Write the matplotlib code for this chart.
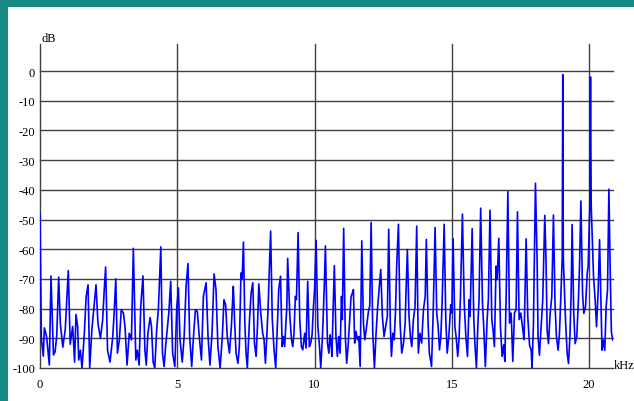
import matplotlib
matplotlib.use("Agg")
import matplotlib.pyplot as plt
from matplotlib.patches import Rectangle

plt.rcParams.update({
    "font.family": ["Liberation Serif", "DejaVu Serif"],
    "font.size": 9,
    "axes.unicode_minus": False,
})

# Spectrum trace, split into bands so the lists stay readable
band_a_khz = [0.00, 0.05, 0.12, 0.16, 0.24, 0.34, 0.40, 0.49, 0.55, 0.61,
              0.68, 0.74, 0.83, 0.92, 1.03, 1.10, 1.19, 1.26, 1.31, 1.37,
              1.41, 1.47, 1.53, 1.61, 1.68, 1.75, 1.81, 1.89, 1.97, 2.04,
              2.11, 2.20, 2.28, 2.34, 2.39, 2.46, 2.55, 2.65, 2.70, 2.76,
              2.82, 2.89, 2.96, 3.04, 3.10, 3.17, 3.25, 3.33, 3.40]
band_a_db = [-48, -90, -96, -86.5, -89.4, -99, -69, -95.6, -94.5, -89,
             -69.4, -85, -93, -87, -67.2, -92, -86, -98, -82, -86,
             -97.3, -94, -100, -89, -76, -72, -100, -87, -79, -72,
             -85, -90, -84, -73.6, -66, -94, -98, -89.4, -81.5, -70,
             -95, -90.5, -80.4, -81.5, -86.6, -99, -88.3, -90.5, -59.7]

band_b_khz = [3.49, 3.545, 3.61, 3.67, 3.75, 3.82, 3.87, 3.93, 4.01, 4.06,
              4.12, 4.18, 4.25, 4.31, 4.40, 4.46, 4.52, 4.57, 4.61, 4.69,
              4.76, 4.83, 4.91, 4.98, 5.04, 5.10, 5.18, 5.25, 5.32, 5.39,
              5.45, 5.525, 5.59, 5.66, 5.73, 5.80, 5.88, 5.95, 6.05, 6.12,
              6.19, 6.265, 6.34, 6.41, 6.48, 6.56, 6.64, 6.70, 6.76, 6.82,
              6.90, 6.97, 7.04]
band_b_db = [-97.3, -94, -99, -79, -69, -94, -99, -88.3, -83, -86,
             -98, -100, -87, -80.4, -59.2, -95, -99.5, -93.3, -89.4, -81.5,
             -70.8, -95, -99.5, -79.8, -73, -90.5, -98, -89.4, -72.5, -64.8,
             -89.4, -99.5, -89.4, -80.4, -81, -89.4, -97.3, -75.9, -71.3, -89.4,
             -99, -88.3, -68.3, -73.6, -92.8, -100, -89.4, -77, -78.7, -89.4,
             -95, -86, -72.5]

band_c_khz = [7.06, 7.09, 7.14, 7.21, 7.26, 7.32, 7.36, 7.41, 7.46, 7.505,
              7.55, 7.63, 7.69, 7.75, 7.81, 7.87, 7.92, 7.97, 8.04, 8.11,
              8.16, 8.21, 8.26, 8.31, 8.34, 8.40, 8.46, 8.525, 8.585, 8.65,
              8.695, 8.76, 8.82, 8.865, 8.91, 8.99, 9.02, 9.10, 9.16, 9.205,
              9.25, 9.30, 9.34, 9.40, 9.46, 9.52, 9.57, 9.64, 9.69, 9.75,
              9.81, 9.86, 9.91, 9.96, 10.00, 10.055, 10.12, 10.18, 10.225, 10.29,
              10.35, 10.395, 10.47, 10.52, 10.565, 10.61]
band_c_db = [-77, -84.9, -95, -98.4, -92.8, -68, -70.2, -57.6, -84.9, -95,
             -100, -83.7, -74.7, -71.3, -91.6, -96.1, -86, -71.7, -81.5, -88.3,
             -90.5, -98.4, -89.4, -79.2, -70.2, -53.9, -83.7, -93.9, -100, -84.9,
             -73.6, -69.1, -92.8, -89.4, -92.8, -79.2, -63.1, -82.6, -90.5, -92.8,
             -88.3, -75.9, -77, -54.4, -83.7, -92.8, -93.9, -88.3, -93.3, -70.8,
             -92.8, -91.6, -88.8, -79.2, -73.6, -57, -86, -92.8, -100, -88.8,
             -73.6, -58.9, -91.6, -95, -88.8, -92.8]

band_d_khz = [10.63, 10.69, 10.72, 10.78, 10.83, 10.88, 10.93, 10.98, 11.01, 11.06,
              11.12, 11.17, 11.22, 11.27, 11.33, 11.38, 11.415, 11.46, 11.51, 11.56,
              11.61, 11.66, 11.72, 11.78, 11.83, 11.88, 11.925, 11.97, 12.01, 12.06,
              12.12, 12.18, 12.24, 12.30, 12.35, 12.41, 12.47, 12.53, 12.59, 12.65,
              12.70, 12.76, 12.80, 12.85, 12.90, 12.945, 12.99, 13.055, 13.115, 13.175,
              13.24, 13.30, 13.33, 13.38, 13.44, 13.49, 13.54, 13.60, 13.66, 13.72,
              13.78, 13.84, 13.90, 13.965, 14.03, 14.07, 14.135, 14.18]
band_d_db = [-96.1, -75.9, -65.5, -89.4, -96.1, -89.4, -95, -75.9, -83.7, -53,
             -89.4, -98.4, -92.8, -84.9, -75.9, -74.7, -73.6, -91.6, -87.7, -90.5,
             -89.4, -99.5, -57.2, -84.9, -90.5, -87.1, -83.7, -80.4, -79.2, -51,
             -88.3, -100, -88.3, -79.2, -73.6, -66.8, -82.6, -89.4, -86, -82.6,
             -53.3, -86, -96.1, -88.3, -90.5, -81.5, -65.7, -51.6, -84.9, -95,
             -91.6, -84.9, -74.7, -60.1, -82.6, -89.4, -92.8, -83.7, -79.2, -52.2,
             -95, -88.3, -91.6, -80.4, -75.9, -56.7, -84.9, -95]

band_e_khz = [14.26, 14.32, 14.39, 14.45, 14.50, 14.55, 14.60, 14.645, 14.72, 14.78,
              14.83, 14.89, 14.96, 15.00, 15.045, 15.11, 15.155, 15.215, 15.265, 15.31,
              15.385, 15.45, 15.51, 15.57, 15.63, 15.665, 15.74, 15.80, 15.845, 15.895,
              15.955, 15.99, 16.05, 16.115, 16.16, 16.22, 16.285, 16.33, 16.39, 16.455,
              16.50, 16.55, 16.61, 16.65, 16.71, 16.77, 16.83, 16.89, 16.93, 16.98,
              17.04, 17.10, 17.16, 17.22, 17.28, 17.34, 17.39, 17.45, 17.51, 17.57,
              17.63, 17.705]
band_e_db = [-99.5, -81.5, -52.7, -81.5, -86, -93.9, -89.4, -78.1, -51.6, -83.7,
             -95, -89.4, -78.7, -81.5, -56.5, -86, -89.4, -96.1, -89.4, -77,
             -48.2, -78.1, -89.4, -96.1, -77, -82.6, -53.1, -83.7, -92.8, -100,
             -83.7, -77, -46.2, -78.1, -86, -99.5, -83.7, -77, -46.9, -83.7,
             -87.1, -92.8, -65.7, -70.2, -56.3, -86, -96.1, -92.2, -97.8, -74.7,
             -40.6, -84.9, -81.5, -97.8, -81.5, -80.4, -47.4, -83.7, -81.5, -86,
             -90.5, -56.5]

# Top band holds the two strong tones near 19 and 20 kHz
band_f_khz = [17.765, 17.83, 17.89, 17.92, 17.97, 18.01, 18.045, 18.105, 18.14, 18.19,
              18.25, 18.31, 18.385, 18.43, 18.47, 18.52, 18.58, 18.64, 18.70, 18.76,
              18.81, 18.87, 18.92, 18.98, 19.02, 19.04, 19.06, 19.14, 19.20, 19.25,
              19.30, 19.345, 19.38, 19.44, 19.49, 19.55, 19.61, 19.65, 19.70, 19.76,
              19.805, 19.87, 19.93, 19.965, 20.025, 20.05, 20.075, 20.16, 20.22, 20.27,
              20.33, 20.38, 20.425, 20.47, 20.52, 20.57, 20.62, 20.67, 20.72, 20.765,
              20.81, 20.86]
band_f_db = [-82.7, -92.3, -94, -100, -86.1, -59, -37.8, -63.5, -89.5, -95.7,
             -86.1, -77.1, -48.6, -63.5, -87.2, -91.8, -81.6, -76, -48.5, -79.3,
             -89.5, -94, -88.4, -72.6, -63, -1.2, -63, -83.9, -95.1, -98.5,
             -89.5, -74.8, -51.7, -81.6, -91.8, -89.5, -77.1, -65.8, -43.8, -74.8,
             -81.6, -79.3, -68.1, -65.8, -45, -2, -45, -69.2, -77.1, -86.1,
             -73.7, -56.8, -74.8, -94, -90.6, -94, -79.3, -73.7, -39.8, -65.8,
             -87.8, -90.6]

x_ticks = [0, 5, 10, 15, 20]
y_ticks = [-100, -90, -80, -70, -60, -50, -40, -30, -20, -10, 0]

GRID = "#404040"
TEAL = "#168983"


def main():
    freq = band_a_khz + band_b_khz + band_c_khz + band_d_khz + band_e_khz + band_f_khz
    level = band_a_db + band_b_db + band_c_db + band_d_db + band_e_db + band_f_db

    fig = plt.figure(figsize=(6.34, 4.02), dpi=100)
    ax = fig.add_axes([0.0631, 0.0821, 0.9038, 0.8052])

    # frame strips along the left and top edge
    fig.patches.append(Rectangle((0, 0), 8 / 634, 1, transform=fig.transFigure,
                                 facecolor=TEAL, edgecolor="none", zorder=0))
    fig.patches.append(Rectangle((0, 1 - 8 / 402), 1, 8 / 402, transform=fig.transFigure,
                                 facecolor=TEAL, edgecolor="none", zorder=0))

    for y in y_ticks:
        ax.axhline(y, color=GRID, lw=1.0, zorder=1, clip_on=False)
    for x in x_ticks:
        ax.axvline(x, color=GRID, lw=1.0, zorder=1, clip_on=False)

    ax.plot(freq, level, color="#0000ff", lw=1.2, zorder=3)

    ax.set_xlim(0, 20.87)
    ax.set_ylim(-100, 9)
    ax.set_xticks(x_ticks)
    ax.set_xticklabels([str(x) for x in x_ticks])
    ax.set_yticks(y_ticks)
    ax.set_yticklabels([str(y) for y in y_ticks])
    ax.tick_params(length=0, labelsize=9)
    ax.tick_params(axis="x", pad=7)
    ax.tick_params(axis="y", pad=3.5)
    for side in ax.spines:
        ax.spines[side].set_visible(False)

    ax.text(0.05, 10, "dB", fontsize=9, ha="left", va="baseline")
    ax.text(1.001, -100, "kHz", fontsize=9, ha="left", va="baseline",
            transform=ax.get_yaxis_transform())

    fig.savefig("out.png", dpi=100)
    plt.close(fig)


if __name__ == "__main__":
    main()
